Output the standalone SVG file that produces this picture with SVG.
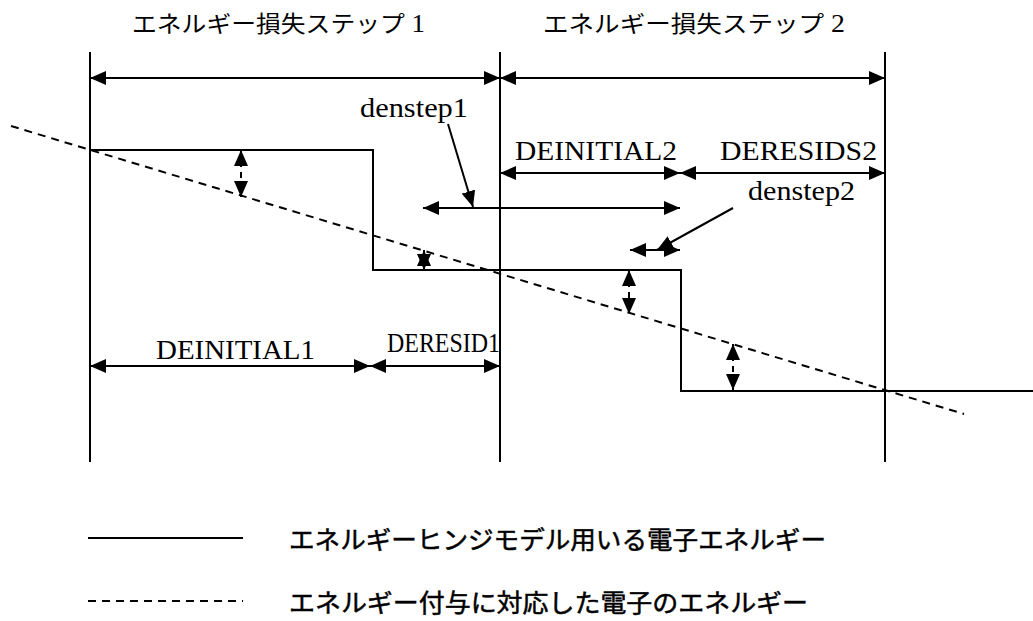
<svg xmlns="http://www.w3.org/2000/svg" width="1033" height="621" viewBox="0 0 1033 621">
<style>
.ln{stroke:#000;stroke-width:2;fill:none}
.dash{stroke:#000;stroke-width:2;fill:none;stroke-dasharray:8 6}
.arr{stroke:#000;stroke-width:2;fill:none;marker-start:url(#ah);marker-end:url(#ah)}
.arr1{stroke:#000;stroke-width:2;fill:none;marker-end:url(#ah)}
.darr{stroke:#000;stroke-width:2;fill:none;stroke-dasharray:6 5;marker-start:url(#ah);marker-end:url(#ah)}
.jp{font-family:"Noto Sans CJK JP","Noto Sans",sans-serif;font-size:23px;font-weight:400;fill:#000}
.lg{font-family:"Noto Sans CJK JP","Noto Sans",sans-serif;font-size:25px;font-weight:400;fill:#000;stroke:#000;stroke-width:0.5}
.lat{font-family:"Liberation Serif","Times New Roman",serif;font-size:27px;fill:#000}
</style>
<defs>
<marker id="ah" markerUnits="userSpaceOnUse" markerWidth="16" markerHeight="14" viewBox="0 0 16 14" refX="16" refY="7" orient="auto-start-reverse">
<path d="M0,0 L16,7 L0,14 z" fill="#000"/>
</marker>
</defs>
<g id="titles">
<text class="jp" x="132" y="32" textLength="293" lengthAdjust="spacingAndGlyphs">エネルギー損失ステップ<tspan font-family="Liberation Serif, serif" font-size="25"> 1</tspan></text>
<text class="jp" x="543" y="32" textLength="302" lengthAdjust="spacingAndGlyphs">エネルギー損失ステップ<tspan font-family="Liberation Serif, serif" font-size="25"> 2</tspan></text>
</g>
<g id="frame">
<line class="ln" x1="90" y1="52" x2="90" y2="462"/>
<line class="ln" x1="500" y1="52" x2="500" y2="462"/>
<line class="ln" x1="885" y1="52" x2="885" y2="462"/>
</g>
<g id="step-curve">
<polyline class="ln" points="90,150 373,150 373,270 681,270 681,391 1033,391"/>
</g>
<g id="deposit-curve">
<line class="dash" x1="11" y1="126" x2="964" y2="414"/>
</g>
<g id="connectors">
<line class="arr" x1="90" y1="78" x2="500" y2="78"/>
<line class="arr" x1="500" y1="78" x2="885" y2="78"/>
<line class="arr" x1="500" y1="173" x2="680" y2="173"/>
<line class="arr" x1="680" y1="173" x2="885" y2="173"/>
<line class="arr" x1="423" y1="208" x2="680" y2="208"/>
<line class="arr" x1="630" y1="250" x2="680" y2="250"/>
<line class="arr" x1="90" y1="366" x2="370" y2="366"/>
<line class="arr" x1="370" y1="366" x2="500" y2="366"/>
<line class="darr" x1="241" y1="150" x2="241" y2="197"/>
<line class="arr" x1="424" y1="250" x2="424" y2="270"/>
<line class="darr" x1="629" y1="270" x2="629" y2="314"/>
<line class="darr" x1="733" y1="344" x2="733" y2="390"/>
<line class="arr1" x1="448" y1="124" x2="473" y2="207"/>
<line class="arr1" x1="733" y1="208" x2="657" y2="250"/>
</g>
<g id="labels">
<text class="lat" x="360" y="117" textLength="108" lengthAdjust="spacingAndGlyphs">denstep1</text>
<text class="lat" x="515" y="160" textLength="162" lengthAdjust="spacingAndGlyphs">DEINITIAL2</text>
<text class="lat" x="720" y="160" textLength="157" lengthAdjust="spacingAndGlyphs">DERESIDS2</text>
<text class="lat" x="748" y="200" textLength="107" lengthAdjust="spacingAndGlyphs">denstep2</text>
<text class="lat" x="156" y="359" textLength="159" lengthAdjust="spacingAndGlyphs">DEINITIAL1</text>
<text class="lat" x="387" y="352" textLength="113" lengthAdjust="spacingAndGlyphs">DERESID1</text>
</g>
<g id="legend">
<line class="ln" x1="88" y1="538" x2="243" y2="538"/>
<text class="lg" x="289" y="549" textLength="537" lengthAdjust="spacingAndGlyphs">エネルギーヒンジモデル用いる電子エネルギー</text>
<line class="dash" x1="88" y1="601" x2="243" y2="601"/>
<text class="lg" x="289" y="612" textLength="519" lengthAdjust="spacingAndGlyphs">エネルギー付与に対応した電子のエネルギー</text>
</g>
</svg>
